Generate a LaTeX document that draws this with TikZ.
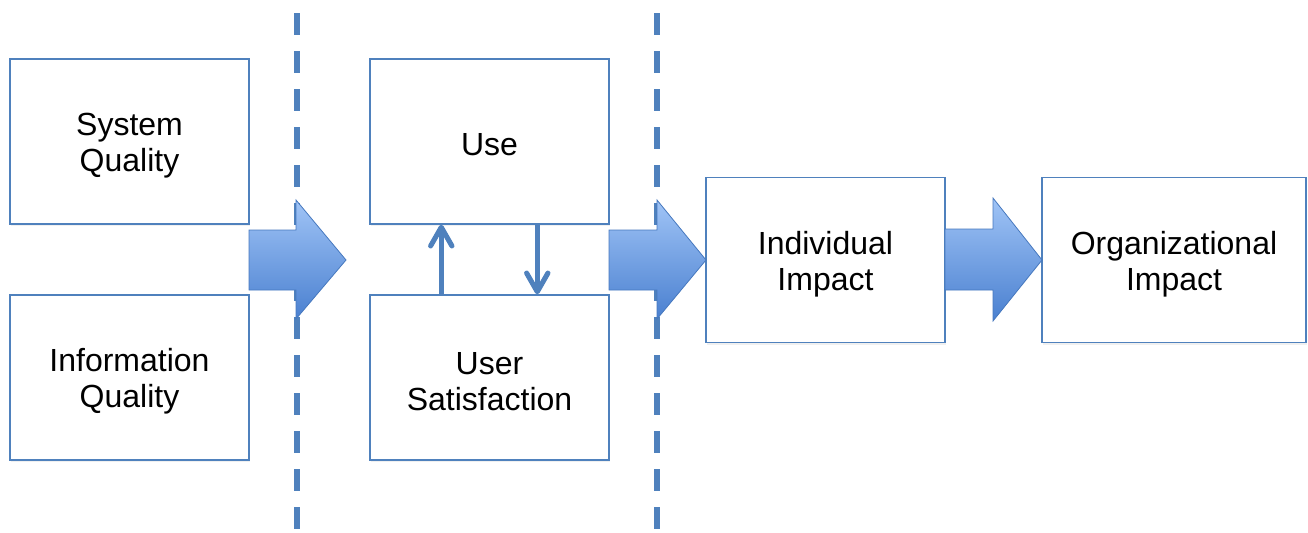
\documentclass[tikz,border=0pt]{standalone}
\usepackage{fontspec}
\setmainfont{Liberation Sans}
\usetikzlibrary{arrows.meta,shadows}
\definecolor{boxblue}{RGB}{79,129,189}
\definecolor{arrtop}{RGB}{160,196,246}
\definecolor{arrbot}{RGB}{74,128,208}
\definecolor{arredge}{RGB}{70,120,190}
\tikzset{
  block/.style={draw=boxblue, line width=1.1pt, fill=white, minimum width=179.25pt, minimum height=123.75pt, inner sep=0pt,
    drop shadow={opacity=0.12, shadow xshift=1pt, shadow yshift=-1.5pt}},
  wideblock/.style={block, minimum width=198pt},
  lbl/.style={inner sep=0pt, align=center, font=\fontsize{24}{27}\selectfont, yshift=-3pt},
  fatarrow/.style={draw=arredge, line width=0.6pt, top color=arrtop, bottom color=arrbot},
  divider/.style={draw=boxblue, line width=4.5pt, dash pattern=on 16.5pt off 12pt},
  smallarrow/.style={draw=boxblue, line width=3.8pt, -{Straight Barb[length=14pt, width=16pt, line width=3.8pt, round]}}
}
\begin{document}
\begin{tikzpicture}[x=0.75pt,y=-0.75pt]
\useasboundingbox (0,0) rectangle (1308,532);
% dividers
\coordinate (d1t) at (297,13);
\coordinate (d1b) at (297,532);
\coordinate (d2t) at (657,13);
\coordinate (d2b) at (657,532);
\draw[divider] (d1t) -- (d1b);
\draw[divider] (d2t) -- (d2b);
% boxes
\node[block] (sq) at (129.5,141.5) {};
\node[block] (iq) at (129.5,377.5) {};
\node[block] (use) at (489.5,141.5) {};
\node[block] (us) at (489.5,377.5) {};
\node[block] (ii) at (825.5,260) {};
\node[wideblock] (oi) at (1174,260) {};
% labels
\node[lbl] (sqt) at (sq.center) {System\\Quality};
\node[lbl] (iqt) at (iq.center) {Information\\Quality};
\node[lbl, yshift=1pt] (uset) at (use.center) {Use};
\node[lbl] (ust) at (us.center) {User\\Satisfaction};
\node[lbl] (iit) at (ii.center) {Individual\\Impact};
\node[lbl] (oit) at (oi.center) {Organizational\\Impact};
% fat arrows
\path[fatarrow] (249,230) -- (296,230) -- (296,200) -- (346,260) -- (296,319) -- (296,290) -- (249,290) -- cycle;
\path[fatarrow] (609,230) -- (657,230) -- (657,200) -- (706,260) -- (657,319) -- (657,290) -- (609,290) -- cycle;
\path[fatarrow] (945,229) -- (993,229) -- (993,198) -- (1042,260) -- (993,321) -- (993,290) -- (945,290) -- cycle;
% small arrows
\draw[smallarrow] (us.north west) ++(72,0) coordinate (ua) -- (ua |- use.south);
\draw[smallarrow] (use.south west) ++(168,0) coordinate (da) -- (da |- us.north);
\end{tikzpicture}
\end{document}
